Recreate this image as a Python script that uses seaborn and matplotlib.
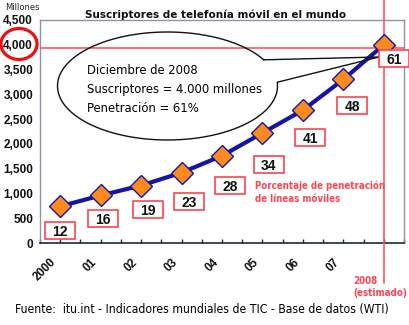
import numpy as np
import pandas as pd
import matplotlib
matplotlib.use("Agg")
import matplotlib.pyplot as plt
from matplotlib.patches import Ellipse, Rectangle
from matplotlib.transforms import Affine2D, ScaledTranslation, blended_transform_factory
from matplotlib.ticker import FuncFormatter, MultipleLocator
import seaborn as sns

# --- data -------------------------------------------------------------
years = ["2000", "01", "02", "03", "04", "05", "06", "07", "2008"]
subscribers = [740, 960, 1160, 1420, 1760, 2220, 2680, 3300, 4000]   # millions
penetration = [12, 16, 19, 23, 28, 34, 41, 48, 61]                  # percent
tick_labels = ["2000", "01", "02", "03", "04", "05", "06", "07", ""]

# --- style ------------------------------------------------------------
sns.set_theme(style="white")
plt.rcParams["font.family"] = ["Liberation Sans", "DejaVu Sans"]
COND = dict(family=["DejaVu Sans"], fontstretch="condensed")

W, H = 410, 325
fig = plt.figure(figsize=(W / 100, H / 100), dpi=100)
fig.patch.set_facecolor("white")
ax = fig.add_axes([40 / W, (H - 243) / H, (404 - 40) / W, (243 - 20) / H])

# pixel -> figure transform (origin at top-left)
PX = Affine2D().scale(1 / W, -1 / H).translate(0, 1) + fig.transFigure


def ftext(x, y, s, **kw):
    return fig.text(x / W, 1 - y / H, s, **kw)


df = pd.DataFrame({"pos": np.arange(len(years)), "subs": subscribers})
sns.lineplot(data=df, x="pos", y="subs", ax=ax, color="#1414a8", lw=3.0,
             marker="D", markersize=11, markerfacecolor="#ff8a1c",
             markeredgecolor="#1414a8", markeredgewidth=1.0, zorder=5)

ax.set_xlim(-0.5, len(years) - 0.5)
ax.set_ylim(0, 4500)
ax.set_xlabel("")
ax.set_ylabel("")

# axes frame
for side in ("left", "top", "right"):
    ax.spines[side].set_color("#8a96a4")
    ax.spines[side].set_linewidth(1.0)
ax.spines["bottom"].set_color("#1c2a3a")
ax.spines["bottom"].set_linewidth(1.2)

ax.yaxis.set_major_locator(MultipleLocator(500))
ax.yaxis.set_major_formatter(FuncFormatter(lambda v, p: f"{int(v):,}"))
ax.tick_params(axis="y", length=0, pad=5, labelsize=8.5, labelcolor="#111111")
for t in ax.get_yticklabels():
    t.set_fontweight("bold")

ax.set_xticks(np.arange(len(years)))
ax.set_xticks(np.arange(-0.5, len(years), 1.0), minor=True)
ax.set_xticklabels(tick_labels, rotation=45, ha="right", rotation_mode="anchor",
                   fontsize=8.5, fontweight="bold", color="#111111")
ax.tick_params(axis="x", which="both", direction="in", length=3, width=1,
               color="#1c2a3a", pad=9.5, bottom=True)
shift = ScaledTranslation(-10 / 100, 0, fig.dpi_scale_trans)
for lab in ax.get_xticklabels():
    lab.set_transform(lab.get_transform() + shift)

# reference lines for the 2008 estimate
ax.axhline(3935, color="#ff5566", lw=1.2, zorder=3)
vline_tr = blended_transform_factory(ax.transData, fig.transFigure)
ax.plot([8, 8], [1.0, 1 - 283 / H], transform=vline_tr, color="#ff5566",
        lw=1.2, clip_on=False, zorder=3)

# highlight around the 4,000 axis label
fig.add_artist(Ellipse((19, 44), 36, 31, transform=PX, fill=False,
                       edgecolor="#ee1111", lw=2.3))

# penetration boxes, placed relative to each marker (pixel offsets)
box_offsets = [(0, 24.5), (2.5, 23), (6.5, 24), (7.5, 29), (8, 30),
               (6.5, 31.5), (7.5, 27.5), (9, 26), (10, 13.5)]
fig.canvas.draw()
for i, (val, pct) in enumerate(zip(subscribers, penetration)):
    dx, dy = ax.transData.transform((i, val))
    cx = dx + box_offsets[i][0]
    cy = (H - dy) + box_offsets[i][1]
    fig.add_artist(Rectangle((cx - 15, cy - 8.5), 30, 17, transform=PX,
                             facecolor="white", edgecolor="#ff3344", lw=1.1,
                             zorder=6))
    fig.text(cx / W, 1 - (cy + 1.5) / H, str(pct), ha="center", va="center",
             fontsize=10, fontweight="bold", color="#111111", zorder=7)

# callout ellipse with a pointer towards the 2008 value
cx0, cy0, a, b = 167.5, 86.0, 110.0, 54.0
t = np.deg2rad(np.linspace(29, 364, 400))
ex = cx0 + a * np.cos(t)
ey = cy0 - b * np.sin(t)
tip = (379, 57)
px_x = np.concatenate([ex, [tip[0]], [ex[0]]])
px_y = np.concatenate([ey, [tip[1]], [ey[0]]])
fig.add_artist(plt.Line2D(px_x, px_y, transform=PX, color="#111111", lw=1.0))

for yy, s in [(71, "Diciembre de 2008"),
              (90, "Suscriptores = 4.000 millones"),
              (108.5, "Penetración = 61%")]:
    ftext(87, yy, s, ha="left", va="center", fontsize=9.3, color="#000000",
          **COND)

# titles and notes
ftext(216, 15, "Suscriptores de telefonía móvil en el mundo", ha="center",
      va="center", fontsize=7.5, fontweight="bold", family=["DejaVu Sans"],
      color="#111111")
ftext(5, 8, "Millones", ha="left", va="center", fontsize=6, family=["DejaVu Sans"],
      color="#222222")
ftext(255, 192, "Porcentaje de penetración\nde líneas móviles", ha="left",
      va="center", fontsize=6.9, fontweight="bold", color="#ff4455",
      linespacing=1.35, **COND)
ftext(353, 287, "2008\n(estimado)", ha="left", va="center", fontsize=7,
      fontweight="bold", color="#ff4455", linespacing=1.35, **COND)
ftext(15, 309, "Fuente:  itu.int - Indicadores mundiales de TIC - Base de datos (WTI)",
      ha="left", va="center", fontsize=8.7, color="#000000", **COND)

fig.savefig("out.png", dpi=100, facecolor="white")
